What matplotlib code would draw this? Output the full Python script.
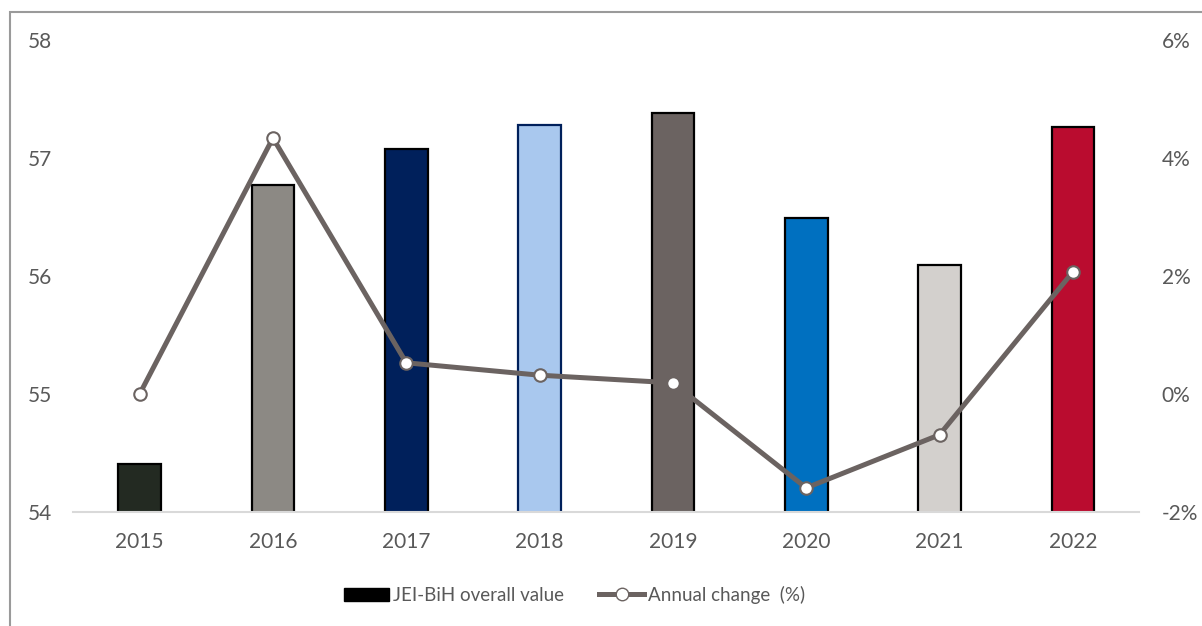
import matplotlib
matplotlib.use('Agg')
import matplotlib.pyplot as plt
from matplotlib.patches import Rectangle, Patch
from matplotlib.lines import Line2D
from matplotlib.ticker import FuncFormatter

years = ['2015', '2016', '2017', '2018', '2019', '2020', '2021', '2022']
overall_value = [54.41, 56.77, 57.08, 57.28, 57.38, 56.49, 56.09, 57.26]
annual_change = [0.0, 4.34, 0.53, 0.32, 0.19, -1.59, -0.69, 2.07]

bar_colors = ['#232a22', '#8c8984', '#00205b', '#a9c8ee',
              '#6b6361', '#0070c0', '#d3d0cd', '#ba0c2f']
bar_edges = ['black', 'black', 'black', '#00205b',
             'black', 'black', 'black', 'black']
line_color = '#6b6361'
text_color = '#595959'

plt.rcParams['font.family'] = ['Lato', 'DejaVu Sans']

fig = plt.figure(figsize=(12.02, 6.26), dpi=100)
ax = fig.add_axes([0.0607, 0.182, 0.8873, 0.754])
ax2 = ax.twinx()

x = list(range(len(years)))
ax.bar(x, overall_value, width=0.32, bottom=0, color=bar_colors,
       edgecolor=bar_edges, linewidth=1.6, zorder=2)
ax.set_ylim(54, 58)
ax.set_xlim(-0.5, len(years) - 0.5)
ax.set_yticks([54, 55, 56, 57, 58])
ax.set_xticks(x)
ax.set_xticklabels(years)

ax2.plot(x, annual_change, color=line_color, linewidth=3.6,
         marker='o', markersize=9, markerfacecolor='white',
         markeredgecolor=line_color, markeredgewidth=1.5, zorder=3)
ax2.set_ylim(-2, 6)
ax2.set_yticks([-2, 0, 2, 4, 6])
ax2.yaxis.set_major_formatter(FuncFormatter(lambda v, p: f'{v:.0f}%'))

for a in (ax, ax2):
    for s in a.spines.values():
        s.set_visible(False)
ax.spines['bottom'].set_visible(True)
ax.spines['bottom'].set_color('#d9d9d9')
ax.spines['bottom'].set_linewidth(1.5)

ax.tick_params(axis='y', length=0, pad=15, labelsize=15, labelcolor=text_color)
ax.tick_params(axis='x', length=0, pad=14, labelsize=15, labelcolor=text_color)
ax2.tick_params(axis='y', length=0, pad=16, labelsize=15, labelcolor=text_color)

handles = [Patch(facecolor='black', edgecolor='black'),
           Line2D([0], [0], color=line_color, linewidth=3.6, marker='o',
                  markersize=9, markerfacecolor='white',
                  markeredgecolor=line_color)]
fig.legend(handles, ['JEI-BiH overall value', 'Annual change  (%)'],
           loc='center', bbox_to_anchor=(0.478, 0.05), ncol=2,
           frameon=False, fontsize=13.5, labelcolor=text_color,
           handlelength=2.4, handletextpad=0.2, columnspacing=1.9)

# outer chart frame, cut off at right and bottom
fig.patches.append(Rectangle((10 / 1202, -0.05), 1.2, 1 - 12 / 626 + 0.05,
                             transform=fig.transFigure, fill=False,
                             edgecolor='#9a9a9a', linewidth=1.5))

fig.savefig('out.png', dpi=100)
